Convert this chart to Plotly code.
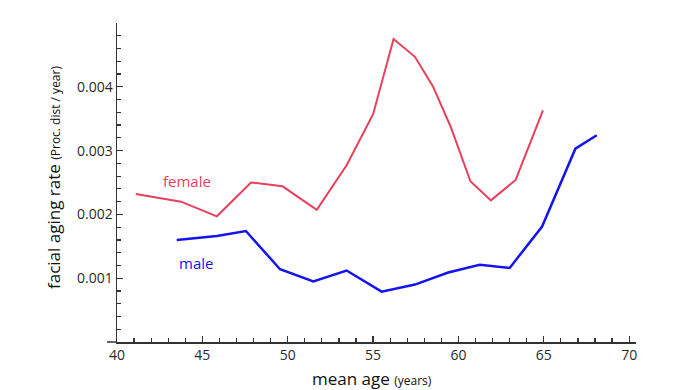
import plotly.graph_objects as go

female_age = [41.1, 43.75, 45.85, 47.85, 49.7, 51.7, 53.45, 55.0, 56.2, 57.45, 58.5, 59.55, 60.7, 61.9, 63.35, 64.95]
female_rate = [0.00232, 0.00220, 0.00197, 0.00250, 0.00244, 0.00207, 0.00277, 0.00357, 0.00475, 0.00447, 0.00401, 0.00337, 0.00252, 0.00222, 0.00254, 0.00363]

male_age = [43.5, 45.85, 47.55, 49.55, 51.5, 53.45, 55.5, 57.45, 59.4, 61.25, 63.0, 64.9, 66.85, 68.1]
male_rate = [0.00160, 0.00166, 0.00174, 0.00114, 0.00095, 0.00112, 0.00079, 0.00090, 0.00109, 0.00121, 0.00116, 0.00181, 0.00303, 0.00324]

x_ticks = [40, 45, 50, 55, 60, 65, 70]
y_ticks = [0.001, 0.002, 0.003, 0.004]
y_tick_labels = ["0.001", "0.002", "0.003", "0.004"]

FEMALE = "#E8405C"
MALE = "#1414F0"
AX = "#333333"
FONT = "Open Sans"

fig = go.Figure()
fig.add_trace(go.Scatter(x=female_age, y=female_rate, mode="lines",
                         line=dict(color=FEMALE, width=2), showlegend=False, hoverinfo="skip"))
fig.add_trace(go.Scatter(x=male_age, y=male_rate, mode="lines",
                         line=dict(color=MALE, width=2.5), showlegend=False, hoverinfo="skip"))

fig.update_layout(
    width=675, height=390,
    margin=dict(l=117, r=39, t=23, b=48),
    paper_bgcolor="white", plot_bgcolor="white",
    font=dict(family=FONT, color="#2a2a2a", size=14),
    xaxis=dict(range=[40, 70.4], tickvals=x_ticks, ticks="inside", ticklen=6,
               tickcolor=AX, tickwidth=1.3, showline=True, linecolor=AX, linewidth=1.5,
               showgrid=False, zeroline=False,
               minor=dict(dtick=1, ticks="inside", ticklen=4, tickcolor=AX, tickwidth=1.2),
               tickfont=dict(size=14, family=FONT)),
    yaxis=dict(range=[0, 0.005], tickvals=y_ticks, ticktext=y_tick_labels,
               ticks="inside", ticklen=6, tickcolor=AX, tickwidth=1.3,
               showline=True, linecolor=AX, linewidth=1.5, showgrid=False, zeroline=False,
               minor=dict(tick0=0, dtick=0.0002, ticks="inside", ticklen=4, tickcolor=AX, tickwidth=1.2),
               tickfont=dict(size=14, family=FONT)),
    annotations=[
        dict(x=44.1, y=0.002524, xref="x", yref="y", text="female", showarrow=False,
             font=dict(color=FEMALE, size=15, family=FONT)),
        dict(x=44.63, y=0.001241, xref="x", yref="y", text="male", showarrow=False,
             font=dict(color=MALE, size=15, family=FONT)),
        dict(x=(372 - 117) / 519, y=-(378 - 342) / 319, xref="paper", yref="paper",
             text="mean age <span style='font-size:12px'>(years)</span>", showarrow=False,
             xanchor="center", yanchor="middle", font=dict(size=17, family=FONT, color="#111111")),
        dict(x=-(117 - 53) / 519, y=(342 - 178) / 319, xref="paper", yref="paper",
             text="facial aging rate <span style='font-size:12px'>(Proc. dist / year)</span>",
             showarrow=False, textangle=-90, xanchor="center", yanchor="middle",
             font=dict(size=17, family=FONT, color="#111111")),
    ],
    shapes=[
        dict(type="line", xref="paper", yref="paper", x0=-10 / 519, x1=0, y0=0, y1=0,
             line=dict(color=AX, width=1.5)),
    ],
)

fig.write_html("out.html", config={"displayModeBar": False, "staticPlot": True},
               post_script="document.body.style.margin='0';document.body.style.overflow='hidden';")
